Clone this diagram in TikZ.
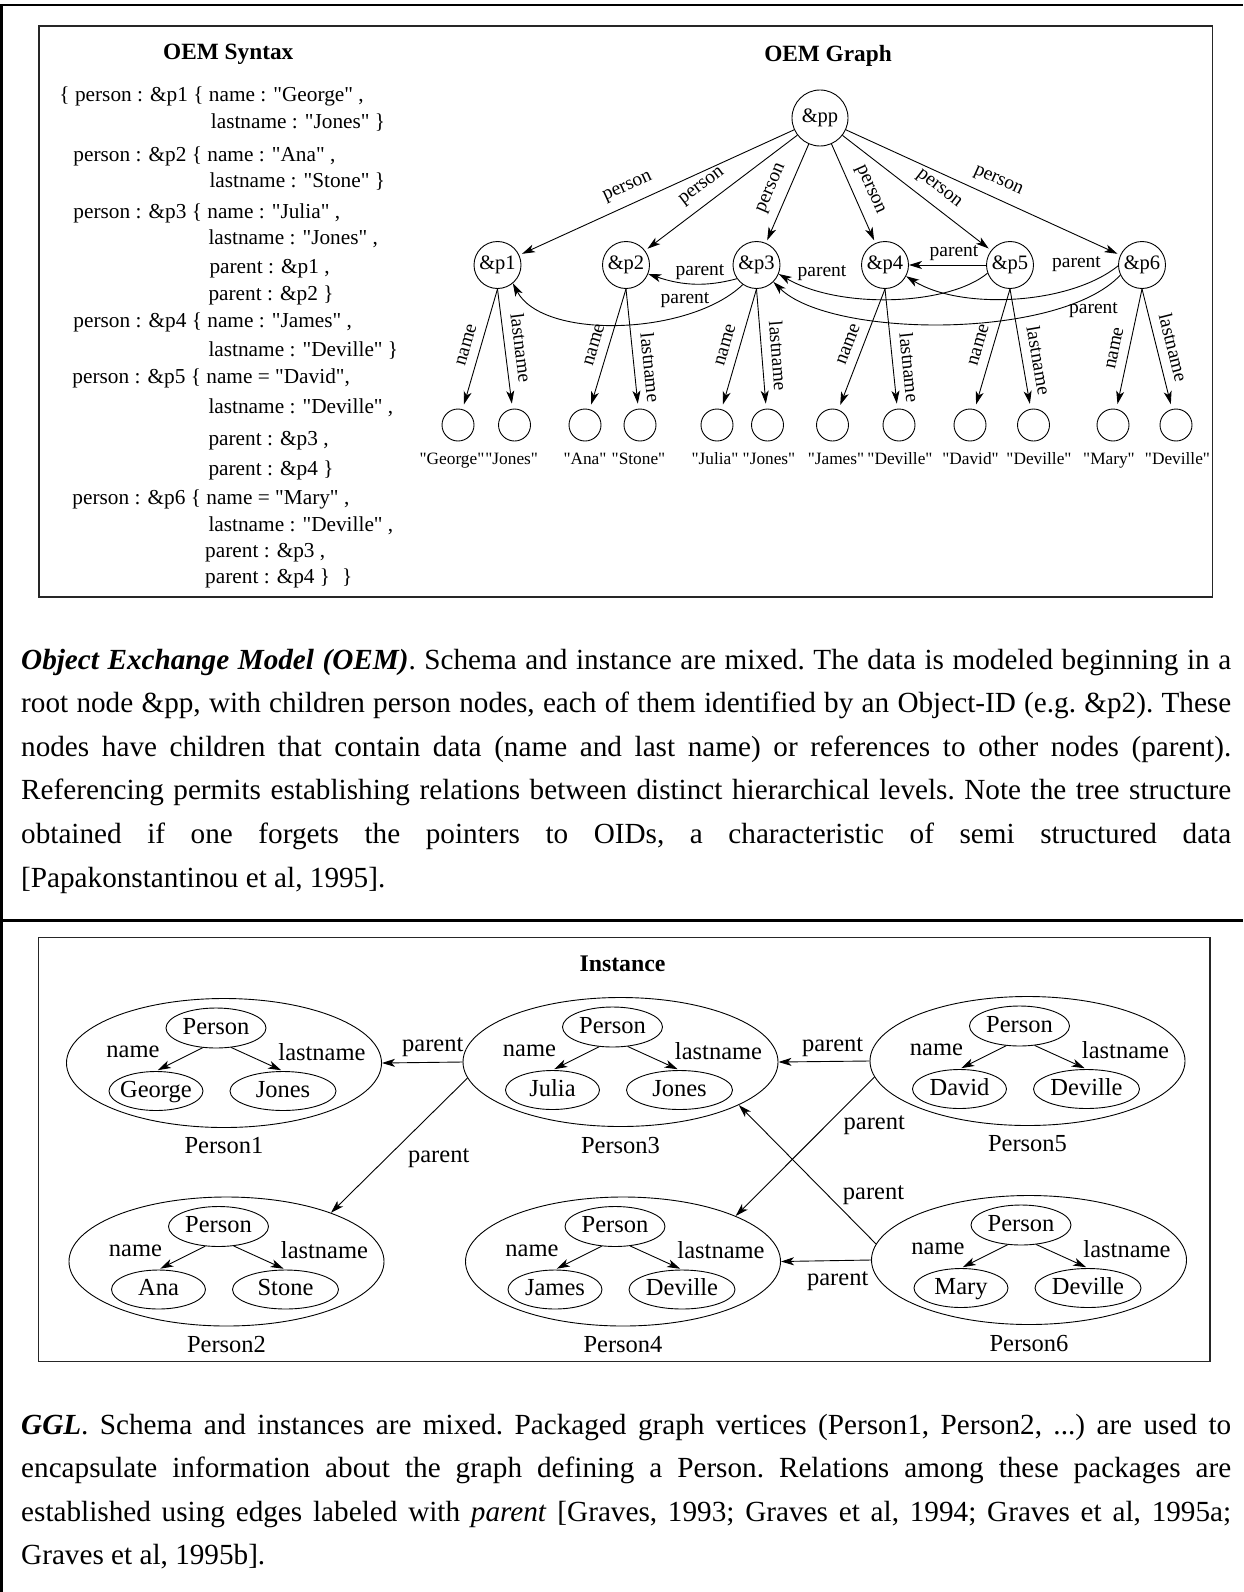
\documentclass[tikz,border=0pt]{standalone}
\usepackage{fontspec}
\setmainfont{Liberation Serif}
\newfontfamily\qfont{Liberation Serif}
\usetikzlibrary{arrows.meta,shapes.geometric}
\newcommand{\zwbox}[1]{\makebox[0pt]{#1}}
\begin{document}
\begin{tikzpicture}[x=1bp,y=-1bp,
  arr/.style={-{Stealth[length=13bp,width=8bp,inset=3.5bp]}, line width=0.9bp},
  outerline/.style={line width=2.6bp},
  ibox/.style={line width=1.3bp, draw=black!85},
  ttl/.style={font=\fontsize{23.3bp}{26bp}\selectfont\bfseries, inner sep=0pt},
  syn/.style={anchor=base west, inner sep=0pt, font=\qfont\fontsize{21.3bp}{24bp}\selectfont},
  oid/.style={circle, draw, line width=0.9bp, minimum size=47bp, inner sep=0pt, font=\fontsize{20.5bp}{23bp}\selectfont},
  leaf/.style={circle, draw, line width=0.9bp, minimum size=32bp, inner sep=0pt},
  elab/.style={font=\fontsize{19.5bp}{22bp}\selectfont, inner sep=3bp, sloped, above=6bp},
  plab/.style={font=\fontsize{19.5bp}{22bp}\selectfont, inner sep=0pt},
  vlab/.style={font=\qfont\fontsize{17.3bp}{20bp}\selectfont, inner sep=0pt, anchor=base},
  gtxt/.style={font=\fontsize{24.5bp}{27bp}\selectfont, inner sep=0pt},
  pkg/.style={ellipse, draw, line width=0.9bp, minimum width=315bp, minimum height=129bp, inner sep=0pt},
  pers/.style={ellipse, draw, line width=0.9bp, minimum width=100bp, minimum height=40bp, inner sep=0pt, gtxt, text height=17bp, text depth=5bp},
  nval/.style={ellipse, draw, line width=0.9bp, minimum width=94bp, minimum height=39bp, inner sep=0pt, gtxt, text height=17bp, text depth=5bp},
  lval/.style={ellipse, draw, line width=0.9bp, minimum width=106bp, minimum height=39bp, inner sep=0pt, gtxt, text height=17bp, text depth=5bp},
  capt/.style={font=\fontsize{29.2bp}{43.6bp}\selectfont\frenchspacing, text width=1210bp, align=justify, inner sep=0pt, anchor=base west},
]
\newcommand{\ggpack}[6]{%
\begin{scope}[shift={(#2,#3)}]
  \node[pkg] (P#1) at (0,0) {};
  \node[pers] (pe#1) at (-8,-35) {\zwbox{Person}};
  \node[nval] (nv#1) at (-68,28) {\zwbox{#4}};
  \node[lval] (lv#1) at (59,28) {\zwbox{#5}};
  \node[gtxt] (nl#1) at (-91,-11) {name};
  \node[gtxt] (ll#1) at (98,-11) {lastname};
  \node[gtxt] (pl#1) at (0,83) {#6};
  \draw[arr, shorten >=2bp] (pe#1.-124) -- (nv#1.north);
  \draw[arr, shorten >=2bp] (pe#1.-52) -- (lv#1.north);
\end{scope}}
\useasboundingbox (0,0) rectangle (1243,1592);
% outer frame
\draw[outerline] (0,5) -- (1243,5);
\draw[outerline] (1.4,5) -- (1.4,1592);
\draw[line width=3bp] (0,920) -- (1243,920);
% inner boxes
\draw[ibox] (39,26) rectangle (1212.5,597);
\draw[ibox] (38.7,937.3) rectangle (1210,1361.5);

% ---------------- OEM Syntax ----------------
\node[ttl] (tsyn) at (228.3,54.5) {OEM Syntax};
\node[syn] (s1) at (59.3,101.8) {\{ person : \&p1 \{ name : "George" ,};
\node[syn] (s2) at (210.7,128.3) {lastname : "Jones" \}};
\node[syn] (s3) at (73.3,161.4) {person : \&p2 \{ name : "Ana" ,};
\node[syn] (s4) at (209.3,187.8) {lastname : "Stone" \}};
\node[syn] (s5) at (73.3,218.6) {person : \&p3 \{ name : "Julia" ,};
\node[syn] (s6) at (208.3,244.6) {lastname : "Jones" ,};
\node[syn] (s7) at (209.3,273) {parent : \&p1 ,};
\node[syn] (s8) at (208.3,300.3) {parent : \&p2 \}};
\node[syn] (s9) at (73.3,327.5) {person : \&p4 \{ name : "James" ,};
\node[syn] (s10) at (208.3,356.7) {lastname : "Deville" \}};
\node[syn] (s11) at (72.3,383.9) {person : \&p5 \{ name = "David",};
\node[syn] (s12) at (208.3,413.9) {lastname : "Deville" ,};
\node[syn] (s13) at (208.3,445) {parent : \&p3 ,};
\node[syn] (s14) at (208.3,475.4) {parent : \&p4 \}};
\node[syn] (s15) at (72.3,504.6) {person : \&p6 \{ name = "Mary" ,};
\node[syn] (s16) at (208.3,531) {lastname : "Deville" ,};
\node[syn] (s17) at (205,557.1) {parent : \&p3 ,};
\node[syn] (s18) at (205,583.5) {parent : \&p4 \}\hspace{12bp}\}};

% ---------------- OEM Graph ----------------
\node[ttl] (tgraph) at (828,56) {OEM Graph};
\node[oid, minimum size=56bp] (pp) at (820,118) {\&pp};
\node[oid] (p1) at (497.5,265) {\&p1};
\node[oid] (p2) at (626,265) {\&p2};
\node[oid] (p3) at (756.5,265) {\&p3};
\node[oid] (p4) at (885,265) {\&p4};
\node[oid] (p5) at (1010,265) {\&p5};
\node[oid] (p6) at (1142,265) {\&p6};

\foreach \id/\x in {11/458,12/514.5,21/585,22/640,31/717,32/767.5,41/832.5,42/899,51/970,52/1033.5,61/1113,62/1176}
  \node[leaf] (l\id) at (\x,425) {};

\node[vlab] (v11) at (452,464) {"George"};
\node[vlab] (v12) at (511.7,464) {"Jones"};
\node[vlab] (v21) at (585,464) {"Ana"};
\node[vlab] (v22) at (638.5,464) {"Stone"};
\node[vlab] (v31) at (715,464) {"Julia"};
\node[vlab] (v32) at (769,464) {"Jones"};
\node[vlab] (v41) at (836,464) {"James"};
\node[vlab] (v42) at (900,464) {"Deville"};
\node[vlab] (v51) at (970.5,464) {"David"};
\node[vlab] (v52) at (1039,464) {"Deville"};
\node[vlab] (v61) at (1109,464) {"Mary"};
\node[vlab] (v62) at (1177.5,464) {"Deville"};

% person edges
\draw[arr, shorten >=3bp] (pp) -- node[elab, pos=0.58] {person} (p1);
\draw[arr, shorten >=3bp] (pp) -- node[elab, pos=0.56] {person} (p2);
\draw[arr, shorten >=3bp] (pp) -- node[elab, pos=0.51] {person} (p3);
\draw[arr, shorten >=3bp] (pp) -- node[elab, pos=0.53] {person} (p4);
\draw[arr, shorten >=3bp] (pp) -- node[elab, pos=0.58] {person} (p5);
\draw[arr, shorten >=3bp] (pp) -- node[elab, pos=0.53] {person} (p6);

% name / lastname edges
\draw[arr, shorten >=5bp] (p1.south) -- node[elab, pos=0.5] {name} (l11);
\draw[arr, shorten >=5bp] (p1.south) -- node[elab, pos=0.51] {lastname} (l12);
\draw[arr, shorten >=5bp] (p2.south) -- node[elab, pos=0.5] {name} (l21);
\draw[arr, shorten >=5bp] (p2.south) -- node[elab, pos=0.67] {lastname} (l22);
\draw[arr, shorten >=5bp] (p3.south) -- node[elab, pos=0.5] {name} (l31);
\draw[arr, shorten >=5bp] (p3.south) -- node[elab, pos=0.57] {lastname} (l32);
\draw[arr, shorten >=5bp] (p4.south) -- node[elab, pos=0.5] {name} (l41);
\draw[arr, shorten >=5bp] (p4.south) -- node[elab, pos=0.67] {lastname} (l42);
\draw[arr, shorten >=5bp] (p5.south) -- node[elab, pos=0.5] {name} (l51);
\draw[arr, shorten >=5bp] (p5.south) -- node[elab, pos=0.62] {lastname} (l52);
\draw[arr, shorten >=5bp] (p6.south) -- node[elab, pos=0.52] {name} (l61);
\draw[arr, shorten >=5bp] (p6.south) -- node[elab, pos=0.52] {lastname} (l62);

% parent references
\draw[arr] (p3.215) .. controls +(-30,8) and +(35,12) .. (p2.-22);
\draw[arr] (p3.235) .. controls +(-53,51) and +(30,57) .. (p1.-50);
\draw[arr] (p5) -- (p4);
\draw[arr] (p5.200) .. controls +(-38,32) and +(62,36) .. (p3.-22);
\draw[arr] (p6.205) .. controls +(-60.7,65.1) and +(56.9,56.4) .. (p3.-45);
\draw[arr] (p6.182) .. controls +(-48.5,39.2) and +(54.3,34) .. (p4.-28);
\node[plab] (r32) at (700,272) {parent};
\node[plab] (r31) at (685,300) {parent};
\node[plab] (r54) at (954,253) {parent};
\node[plab] (r53) at (822,273) {parent};
\node[plab] (r64) at (1076.5,264) {parent};
\node[plab] (r63) at (1093.5,310) {parent};

% ---------------- Caption 1 ----------------
\node[capt] (cap1) at (21,669) {\textbf{\textit{Object Exchange Model (OEM)}}. Schema and instance are mixed. The data is modeled beginning in a\linebreak{}
root node \&pp, with children person nodes, each of them identified by an Object-ID (e.g. \&p2). These\linebreak{}
nodes have children that contain data (name and last name) or references to other nodes (parent).\linebreak{}
Referencing permits establishing relations between distinct hierarchical levels. Note the tree structure\linebreak{}
obtained if one forgets the pointers to OIDs, a characteristic of semi structured data\linebreak{}
{[Papakonstantinou et al, 1995].}};

% ---------------- GGL Instance ----------------
\node[ttl, font=\fontsize{23.8bp}{26bp}\selectfont\bfseries] (tinst) at (622.5,963.5) {Instance};
\ggpack{1}{224}{1063}{George}{Jones}{Person1}
\ggpack{2}{226.5}{1261.5}{Ana}{Stone}{Person2}
\ggpack{3}{620.5}{1062}{Julia}{Jones}{Person3}
\ggpack{4}{623}{1261.5}{James}{Deville}{Person4}
\ggpack{5}{1027.5}{1061}{David}{Deville}{Person5}
\ggpack{6}{1029}{1260}{Mary}{Deville}{Person6}

\draw[arr] (P3.west) -- (P1.east);
\draw[arr] (P3.186) -- (P2.25);
\draw[arr] (P5.west) -- (P3.east);
\draw[arr] (P5.186) -- (P4.22);
\draw[arr] (P6.174) -- (P3.-20);
\draw[arr] (P6.west) -- (P4.east);
\node[gtxt] (g31) at (432.8,1046.7) {parent};
\node[gtxt] (g32) at (438.7,1158.3) {parent};
\node[gtxt] (g53) at (832.6,1047.3) {parent};
\node[gtxt] (g54) at (874.3,1125) {parent};
\node[gtxt] (g63) at (873.5,1195) {parent};
\node[gtxt] (g64) at (837.7,1280.7) {parent};

% ---------------- Caption 2 ----------------
\node[capt] (cap2) at (21,1434) {\textbf{\textit{GGL}}. Schema and instances are mixed. Packaged graph vertices (Person1, Person2, ...) are used to\linebreak{}
encapsulate information about the graph defining a Person. Relations among these packages are\linebreak{}
established using edges labeled with \textit{parent} [Graves, 1993; Graves et al, 1994; Graves et al, 1995a;\linebreak{}
Graves et al, 1995b].};
\end{tikzpicture}
\end{document}
